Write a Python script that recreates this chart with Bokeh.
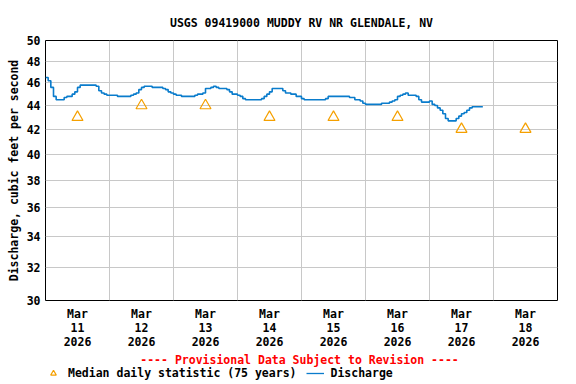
from bokeh.plotting import figure
from bokeh.layouts import column
from bokeh.models import FixedTicker, PrintfTickFormatter, Legend, LegendItem, Range1d, Label
from bokeh.embed import file_html
from bokeh.resources import INLINE

title_text = "USGS 09419000 MUDDY RV NR GLENDALE, NV"
y_label = "Discharge, cubic feet per second"
provisional_text = "---- Provisional Data Subject to Revision ----"
median_label = "Median daily statistic (75 years)"
discharge_label = "Discharge"

# x tick labels (one per day, placed at noon)
day_labels = ["Mar\n11\n2026", "Mar\n12\n2026", "Mar\n13\n2026", "Mar\n14\n2026",
              "Mar\n15\n2026", "Mar\n16\n2026", "Mar\n17\n2026", "Mar\n18\n2026"]
y_ticks = [30, 32, 34, 36, 38, 40, 42, 44, 46, 48, 50]

# Median daily statistic (75 years), one per day
median_cfs = [43, 44, 44, 43, 43, 43, 42, 42]

# Hourly discharge (cfs) starting 2026-03-11 00:00
discharge_cfs = [
    # Mar 11
    46.5, 46.2, 45.6, 44.8, 44.5, 44.5, 44.5, 44.7, 44.8, 44.8, 45.0, 45.2,
    45.6, 45.8, 45.8, 45.8, 45.8, 45.8, 45.8, 45.7, 45.3, 45.1, 45.0, 44.9,
    # Mar 12
    44.9, 44.9, 44.9, 44.8, 44.8, 44.8, 44.8, 44.8, 44.9, 45.0, 45.1, 45.4,
    45.6, 45.7, 45.7, 45.7, 45.6, 45.6, 45.6, 45.6, 45.5, 45.4, 45.2, 45.1,
    # Mar 13
    45.0, 44.9, 44.9, 44.8, 44.8, 44.8, 44.8, 44.8, 44.9, 45.0, 45.0, 45.1,
    45.5, 45.5, 45.6, 45.7, 45.6, 45.5, 45.5, 45.5, 45.4, 45.2, 45.0, 45.0,
    # Mar 14
    44.9, 44.8, 44.6, 44.5, 44.5, 44.5, 44.5, 44.5, 44.5, 44.6, 44.8, 45.0,
    45.2, 45.5, 45.5, 45.5, 45.5, 45.3, 45.1, 45.1, 45.0, 45.0, 44.8, 44.8,
    # Mar 15
    44.6, 44.5, 44.5, 44.5, 44.5, 44.5, 44.5, 44.5, 44.5, 44.6, 44.8, 44.8,
    44.8, 44.8, 44.8, 44.8, 44.8, 44.8, 44.7, 44.7, 44.5, 44.5, 44.4, 44.2,
    # Mar 16
    44.1, 44.1, 44.1, 44.1, 44.1, 44.1, 44.2, 44.2, 44.2, 44.3, 44.4, 44.5,
    44.8, 44.9, 45.0, 45.1, 44.9, 44.9, 44.9, 44.8, 44.5, 44.3, 44.3, 44.3,
    # Mar 17
    44.4, 44.1, 44.0, 43.8, 43.6, 43.3, 42.9, 42.7, 42.7, 42.7, 42.9, 43.1,
    43.3, 43.4, 43.6, 43.8, 43.9, 43.9, 43.9, 43.9, 43.9,
]

FONT = "DejaVu Sans Mono"
FS = "11.5px"
BLUE = "#0a7ccc"
ORANGE = "#f5a000"

x_q = [i / 24.0 for i in range(len(discharge_cfs))]
x_med = [d + 0.5 for d in range(len(median_cfs))]

p = figure(width=576, height=352, y_axis_type="log",
           x_range=(0, 8), y_range=(30, 50),
           output_backend="svg", toolbar_location=None,
           min_border_left=45, min_border_right=19,
           min_border_top=40, min_border_bottom=52,
           background_fill_color="white", border_fill_color="white")

p.title.text = title_text
p.title.align = "center"
p.title.text_font = FONT
p.title.text_font_size = FS
p.title.text_font_style = "bold"
p.title.text_color = "black"
p.title.standoff = 21

p.outline_line_color = "black"
p.outline_line_width = 1
p.outline_line_alpha = 1

# axes
p.xaxis.ticker = FixedTicker(ticks=x_med)
p.xaxis.major_label_overrides = {x: lab for x, lab in zip(x_med, day_labels)}
p.yaxis.ticker = FixedTicker(ticks=y_ticks)
p.yaxis.formatter = PrintfTickFormatter(format="%d")
for ax in (p.xaxis[0], p.yaxis[0]):
    ax.axis_line_color = None
    ax.major_tick_line_color = None
    ax.minor_tick_line_color = None
    ax.major_tick_out = 0
    ax.major_tick_in = 0
    ax.minor_tick_out = 0
    ax.minor_tick_in = 0
    ax.major_label_text_font = FONT
    ax.major_label_text_font_size = FS
    ax.major_label_text_font_style = "bold"
    ax.major_label_text_color = "black"
p.xaxis.major_label_standoff = 6
p.xaxis.major_label_text_line_height = 1.0

p.yaxis.major_label_standoff = 5
p.yaxis.axis_label = y_label
p.yaxis.axis_label_text_font = FONT
p.yaxis.axis_label_text_font_size = FS
p.yaxis.axis_label_text_font_style = "bold"
p.yaxis.axis_label_text_color = "black"
p.yaxis.axis_label_standoff = 3

# grid
p.xgrid.ticker = FixedTicker(ticks=[1, 2, 3, 4, 5, 6, 7])
p.ygrid.ticker = FixedTicker(ticks=y_ticks)
for g in (p.xgrid[0], p.ygrid[0]):
    g.grid_line_color = "#c8c8c8"
    g.grid_line_width = 1
    g.minor_grid_line_color = None

p.step(x_q, discharge_cfs, mode="after", line_color=BLUE, line_width=1.6)
p.scatter(x_med, median_cfs, marker="triangle", size=11,
          fill_color=None, line_color=ORANGE, line_width=1.2)

# strip below the chart: provisional notice and legend
lf = figure(width=576, height=32, output_backend="svg", toolbar_location=None,
            title=None, x_range=Range1d(0, 1), y_range=Range1d(0, 1),
            x_axis_location=None, y_axis_location=None,
            min_border_left=45, min_border_right=0, min_border_top=0, min_border_bottom=0,
            background_fill_color="white", border_fill_color="white")
lf.outline_line_color = None
lf.xgrid.visible = False
lf.ygrid.visible = False

lf.add_layout(Label(x=254, y=25, x_units="screen", y_units="screen", text=provisional_text,
                    text_align="center", text_baseline="middle", text_color="red",
                    text_font=FONT, text_font_size=FS, text_font_style="bold"))

# legend-only renderers (a single undrawn NaN point each)
nan = float("nan")
tri_l = lf.scatter([nan], [nan], marker="triangle", size=11, fill_color=None,
                   line_color=ORANGE, line_width=1.2)
ln_l = lf.line([nan], [nan], line_color=BLUE, line_width=1.3)
legend = Legend(items=[LegendItem(label=median_label, renderers=[tri_l]),
                       LegendItem(label=discharge_label, renderers=[ln_l])],
                orientation="horizontal", location=(-1, 4),
                padding=0, margin=0, spacing=10, glyph_width=18, glyph_height=14,
                label_standoff=6, border_line_color=None, background_fill_alpha=0,
                label_text_font=FONT, label_text_font_size=FS,
                label_text_font_style="bold", label_text_color="black")
lf.add_layout(legend)

layout = column(p, lf, spacing=0)
open("out.html", "w").write(file_html(layout, INLINE))
